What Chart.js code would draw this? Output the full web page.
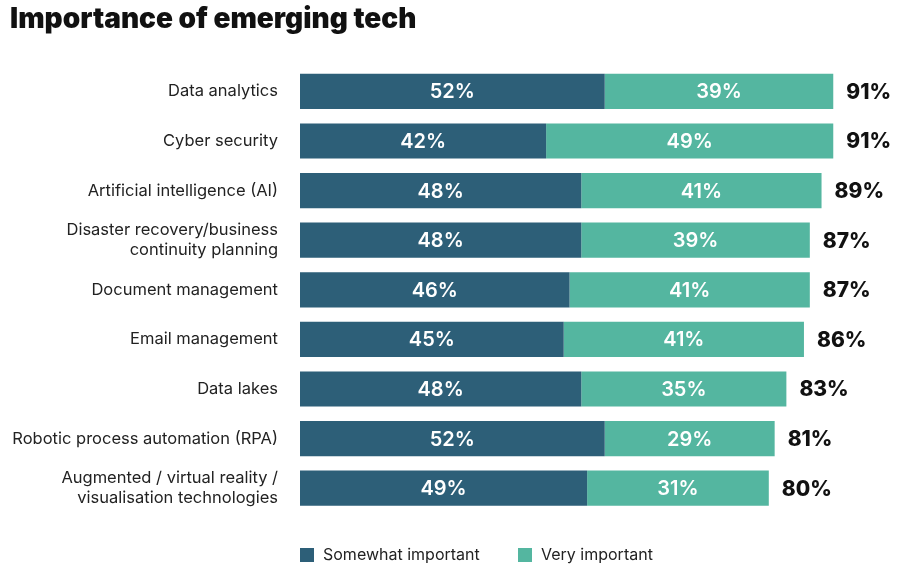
<!DOCTYPE html>
<html>
<head>
<meta charset="utf-8">
<style>
  html, body { margin: 0; padding: 0; background: #fff; }
  #wrap { width: 900px; height: 575px; position: relative; }
</style>
<script src="https://cdn.jsdelivr.net/npm/chart.js@4"></script>
</head>
<body>
<div id="wrap"><canvas id="chart" width="900" height="575"></canvas></div>
<script>
// DATA
const categories = [
  "Data analytics",
  "Cyber security",
  "Artificial intelligence (AI)",
  ["Disaster recovery/business", "continuity planning"],
  "Document management",
  "Email management",
  "Data lakes",
  "Robotic process automation (RPA)",
  ["Augmented / virtual reality /", "visualisation technologies"],
];
const somewhatImportant = [52, 42, 48, 48, 46, 45, 48, 52, 49];
const veryImportant = [39, 49, 41, 39, 41, 41, 35, 29, 31];
const totals = [91, 91, 89, 87, 87, 86, 83, 81, 80];
const seriesNames = ["Somewhat important", "Very important"];

const darkBlue = "#2d5f78";
const teal = "#54b6a0";
const fontFamily = "Inter, 'Noto Sans', sans-serif";

// fixed width y axis so bars start at x=300 (10px left padding + 290)
const yAxisWidth = 290;

//* Bar labels + totals plugin
const barLabels = {
  id: "barLabels",
  afterDatasetsDraw(chart) {
    const c = chart.ctx;
    c.save();
    c.textBaseline = "middle";
    chart.data.datasets.forEach((ds, i) => {
      const meta = chart.getDatasetMeta(i);
      meta.data.forEach((bar, j) => {
        const left = bar.base;
        const right = bar.x;
        c.fillStyle = "#ffffff";
        c.font = "600 20px " + fontFamily;
        c.textAlign = "center";
        c.fillText(ds.data[j] + "%", (left + right) / 2, bar.y + 1);
      });
    });
    // totals at the end of the stack
    const last = chart.getDatasetMeta(chart.data.datasets.length - 1);
    last.data.forEach((bar, j) => {
      c.fillStyle = "#111111";
      c.font = "800 21px " + fontFamily;
      c.textAlign = "left";
      c.fillText(totals[j] + "%", bar.x + 13, bar.y + 1);
    });
    c.restore();
  },
};

//* Legend plugin (placed under the bars, starting at the bar origin)
const customLegend = {
  id: "customLegend",
  afterDraw(chart) {
    const c = chart.ctx;
    const x0 = chart.chartArea.left;
    const y = 555;
    const colors = [darkBlue, teal];
    const offsets = [0, 218];
    c.save();
    c.font = "400 16px " + fontFamily;
    c.textBaseline = "middle";
    c.textAlign = "left";
    seriesNames.forEach((name, i) => {
      c.fillStyle = colors[i];
      c.fillRect(x0 + offsets[i], y - 7, 14, 14);
      c.fillStyle = "#222222";
      c.fillText(name, x0 + offsets[i] + 23, y);
    });
    c.restore();
  },
};

const ctx = document.getElementById("chart");
const myChart = new Chart(ctx, {
  type: "bar",
  data: {
    labels: categories,
    datasets: [
      {
        label: seriesNames[0],
        data: somewhatImportant,
        backgroundColor: darkBlue,
        borderWidth: 0,
        barPercentage: 0.71,
        categoryPercentage: 1,
      },
      {
        label: seriesNames[1],
        data: veryImportant,
        backgroundColor: teal,
        borderWidth: 0,
        barPercentage: 0.71,
        categoryPercentage: 1,
      },
    ],
  },
  options: {
    indexAxis: "y",
    responsive: false,
    maintainAspectRatio: false,
    animation: false,
    layout: {
      padding: { top: 0, right: 14, bottom: 62, left: 10 },
    },
    scales: {
      x: {
        stacked: true,
        min: 0,
        max: 100,
        display: false,
      },
      y: {
        stacked: true,
        grid: { display: false },
        border: { display: false },
        ticks: {
          color: "#222222",
          padding: 14,
          font: { family: fontFamily, size: 16.5, weight: "400" },
        },
        afterFit(scale) {
          scale.width = yAxisWidth;
        },
      },
    },
    plugins: {
      legend: { display: false },
      tooltip: { enabled: false },
      title: {
        display: true,
        text: "Importance of emerging tech",
        align: "start",
        color: "#111111",
        font: { family: fontFamily, size: 28, weight: "900", lineHeight: 1.2 },
        padding: { top: 3, bottom: 30 },
      },
    },
  },
  plugins: [barLabels, customLegend],
});
</script>
</body>
</html>
